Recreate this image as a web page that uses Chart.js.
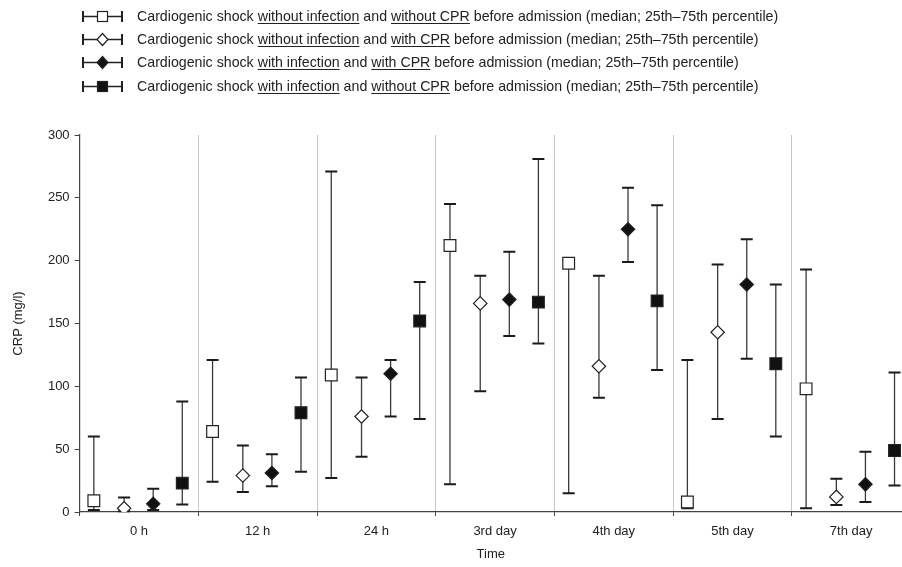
<!DOCTYPE html>
<html><head><meta charset="utf-8">
<script src="https://cdn.jsdelivr.net/npm/chart.js@4.4.1/dist/chart.umd.min.js"></script>
<style>
html,body{margin:0;padding:0;background:#fff;}
#wrap{position:relative;width:902px;height:567px;overflow:hidden;}
#c{position:absolute;left:0;top:0;}
#legend{position:absolute;left:0;top:0;font-family:"Liberation Sans",Arial,sans-serif;font-size:14.2px;color:#222;}
.row{position:absolute;left:82px;height:20px;display:flex;align-items:center;white-space:nowrap;}
.row svg{margin-right:14px;flex:none;}
u{text-decoration-thickness:1px;text-underline-offset:2px;}
</style></head>
<body><div id="wrap"><canvas id="c" width="902" height="567"></canvas><div id="legend"></div></div>
<script>
// ---- data ----
const categories = ['0 h', '12 h', '24 h', '3rd day', '4th day', '5th day', '7th day'];
const infectionLabels = ['without infection', 'without infection', 'with infection', 'with infection'];
const cprLabels = ['without CPR', 'with CPR', 'with CPR', 'without CPR'];

// Series 1: without infection, without CPR
const s1Median = [9, 64, 109, 212, 198, 8, 98];
const s1Low    = [1.5, 24, 27, 22, 15, 3, 3];
const s1High   = [60, 121, 271, 245, 200, 121, 193];
// Series 2: without infection, with CPR
const s2Median = [3, 29, 76, 166, 116, 143, 12];
const s2Low    = [0.5, 16, 44, 96, 91, 74, 5.5];
const s2High   = [11.5, 53, 107, 188, 188, 197, 26.5];
// Series 3: with infection, with CPR
const s3Median = [6.5, 31, 110, 169, 225, 181, 22];
const s3Low    = [1.5, 20.5, 76, 140, 199, 122, 8];
const s3High   = [18.5, 46, 121, 207, 258, 217, 48];
// Series 4: with infection, without CPR
const s4Median = [23, 79, 152, 167, 168, 118, 49];
const s4Low    = [6, 32, 74, 134, 113, 60, 21];
const s4High   = [88, 107, 183, 281, 244, 181, 111];

const yTicks = [0, 50, 100, 150, 200, 250, 300];

// ---- styling / layout ----
const FONT = '"Liberation Sans", Arial, sans-serif';
const seriesOffsets = [0.12, 0.375, 0.62, 0.865];
const seriesStyle = [
  {shape: 'rect', fill: '#ffffff', r: 8.3},
  {shape: 'rectRot', fill: '#ffffff', r: 6.7},
  {shape: 'rectRot', fill: '#111111', r: 6.7},
  {shape: 'rect', fill: '#111111', r: 8.3}
];
const medians = [s1Median, s2Median, s3Median, s4Median];
const lows = [s1Low, s2Low, s3Low, s4Low];
const highs = [s1High, s2High, s3High, s4High];

// legend (HTML)
const legendEl = document.getElementById('legend');
const rowTops = [6, 29, 52, 76];
function iconSvg(k) {
  const st = seriesStyle[k];
  let m;
  if (st.shape === 'rect') {
    m = `<rect x="15.5" y="2.5" width="10" height="10" fill="${st.fill}" stroke="#222" stroke-width="1.2"/>`;
  } else {
    m = `<polygon points="20.5,1.5 26,7.5 20.5,13.5 15,7.5" fill="${st.fill}" stroke="#222" stroke-width="1.2"/>`;
  }
  return `<svg width="41" height="15" viewBox="0 0 41 15">
    <line x1="1" y1="2" x2="1" y2="13" stroke="#222" stroke-width="2"/>
    <line x1="1" y1="7.5" x2="40" y2="7.5" stroke="#222" stroke-width="1.3"/>
    <line x1="40" y1="2" x2="40" y2="13" stroke="#222" stroke-width="2"/>
    ${m}</svg>`;
}
for (let k = 0; k < 4; k++) {
  const d = document.createElement('div');
  d.className = 'row';
  d.style.top = rowTops[k] + 'px';
  d.innerHTML = iconSvg(k) + `<span>Cardiogenic shock <u>${infectionLabels[k]}</u> and <u>${cprLabels[k]}</u> before admission (median; 25th\u201375th percentile)</span>`;
  legendEl.appendChild(d);
}

const datasets = medians.map((med, k) => ({
  label: 'Cardiogenic shock ' + infectionLabels[k] + ' and ' + cprLabels[k] + ' before admission',
  data: categories.map((c, i) => ({x: i + seriesOffsets[k], y: med[i]})),
  showLine: false,
  pointStyle: seriesStyle[k].shape,
  pointRadius: seriesStyle[k].r,
  pointHoverRadius: seriesStyle[k].r,
  pointBackgroundColor: seriesStyle[k].fill,
  pointBorderColor: '#222',
  pointBorderWidth: 1.2
}));

const errorBarPlugin = {
  id: 'errorBars',
  beforeDatasetsDraw(chart) {
    const ctx = chart.ctx, ys = chart.scales.y, xs = chart.scales.x;
    const a = chart.chartArea;
    ctx.save();
    ctx.beginPath();
    ctx.rect(a.left, a.top - 5, a.right - a.left, a.bottom - a.top + 10);
    ctx.clip();
    medians.forEach((med, k) => {
      med.forEach((m, i) => {
        const x = xs.getPixelForValue(i + seriesOffsets[k]);
        const yl = ys.getPixelForValue(lows[k][i]);
        const yh = ys.getPixelForValue(highs[k][i]);
        ctx.strokeStyle = '#3a3a3a';
        ctx.lineWidth = 1.3;
        ctx.beginPath();
        ctx.moveTo(x, yl); ctx.lineTo(x, yh);
        ctx.stroke();
        ctx.strokeStyle = '#1a1a1a';
        ctx.lineWidth = 2;
        ctx.beginPath();
        ctx.moveTo(x - 6, yl); ctx.lineTo(x + 6, yl);
        ctx.moveTo(x - 6, yh); ctx.lineTo(x + 6, yh);
        ctx.stroke();
      });
    });
    ctx.restore();
  }
};

const xTickVals = [];
for (let i = 0; i <= 6; i++) { xTickVals.push(i); xTickVals.push(i + 0.5); }

new Chart(document.getElementById('c'), {
  type: 'scatter',
  data: {datasets},
  plugins: [errorBarPlugin],
  options: {
    responsive: false,
    animation: false,
    devicePixelRatio: 1,
    layout: {autoPadding: false, padding: {top: 135, left: 0, right: 0, bottom: 0}},
    plugins: {legend: {display: false}, tooltip: {enabled: false}},
    scales: {
      x: {
        type: 'linear', min: 0, max: 6.928,
        afterBuildTicks: s => { s.ticks = xTickVals.map(v => ({value: v})); },
        afterFit: s => { s.height = 55; s.paddingLeft = 0; s.paddingRight = 0; },
        grid: {
          drawOnChartArea: true,
          color: c => (Number.isInteger(c.tick.value) && c.tick.value > 0) ? '#c6c6c6' : 'rgba(0,0,0,0)',
          tickColor: c => Number.isInteger(c.tick.value) ? '#444' : 'rgba(0,0,0,0)',
          tickLength: 4, lineWidth: 1
        },
        border: {color: '#444', width: 1.2},
        ticks: {
          autoSkip: false, maxRotation: 0, minRotation: 0, padding: 8,
          callback: v => Number.isInteger(v) ? '' : categories[Math.floor(v)],
          font: {family: FONT, size: 13}, color: '#222'
        },
        title: {display: true, text: 'Time', font: {family: FONT, size: 13}, color: '#222', padding: {top: 4, bottom: 5}}
      },
      y: {
        min: 0, max: 300,
        afterBuildTicks: s => { s.ticks = yTicks.map(v => ({value: v})); },
        afterFit: s => { s.width = 79.6; },
        grid: {drawOnChartArea: false, tickLength: 5, color: '#444'},
        border: {color: '#444', width: 1.2},
        ticks: {padding: 5, font: {family: FONT, size: 13}, color: '#222'},
        title: {display: true, text: 'CRP (mg/l)', font: {family: FONT, size: 13}, color: '#222', padding: {top: 11, bottom: 0}}
      }
    }
  }
});
</script>
</body></html>
